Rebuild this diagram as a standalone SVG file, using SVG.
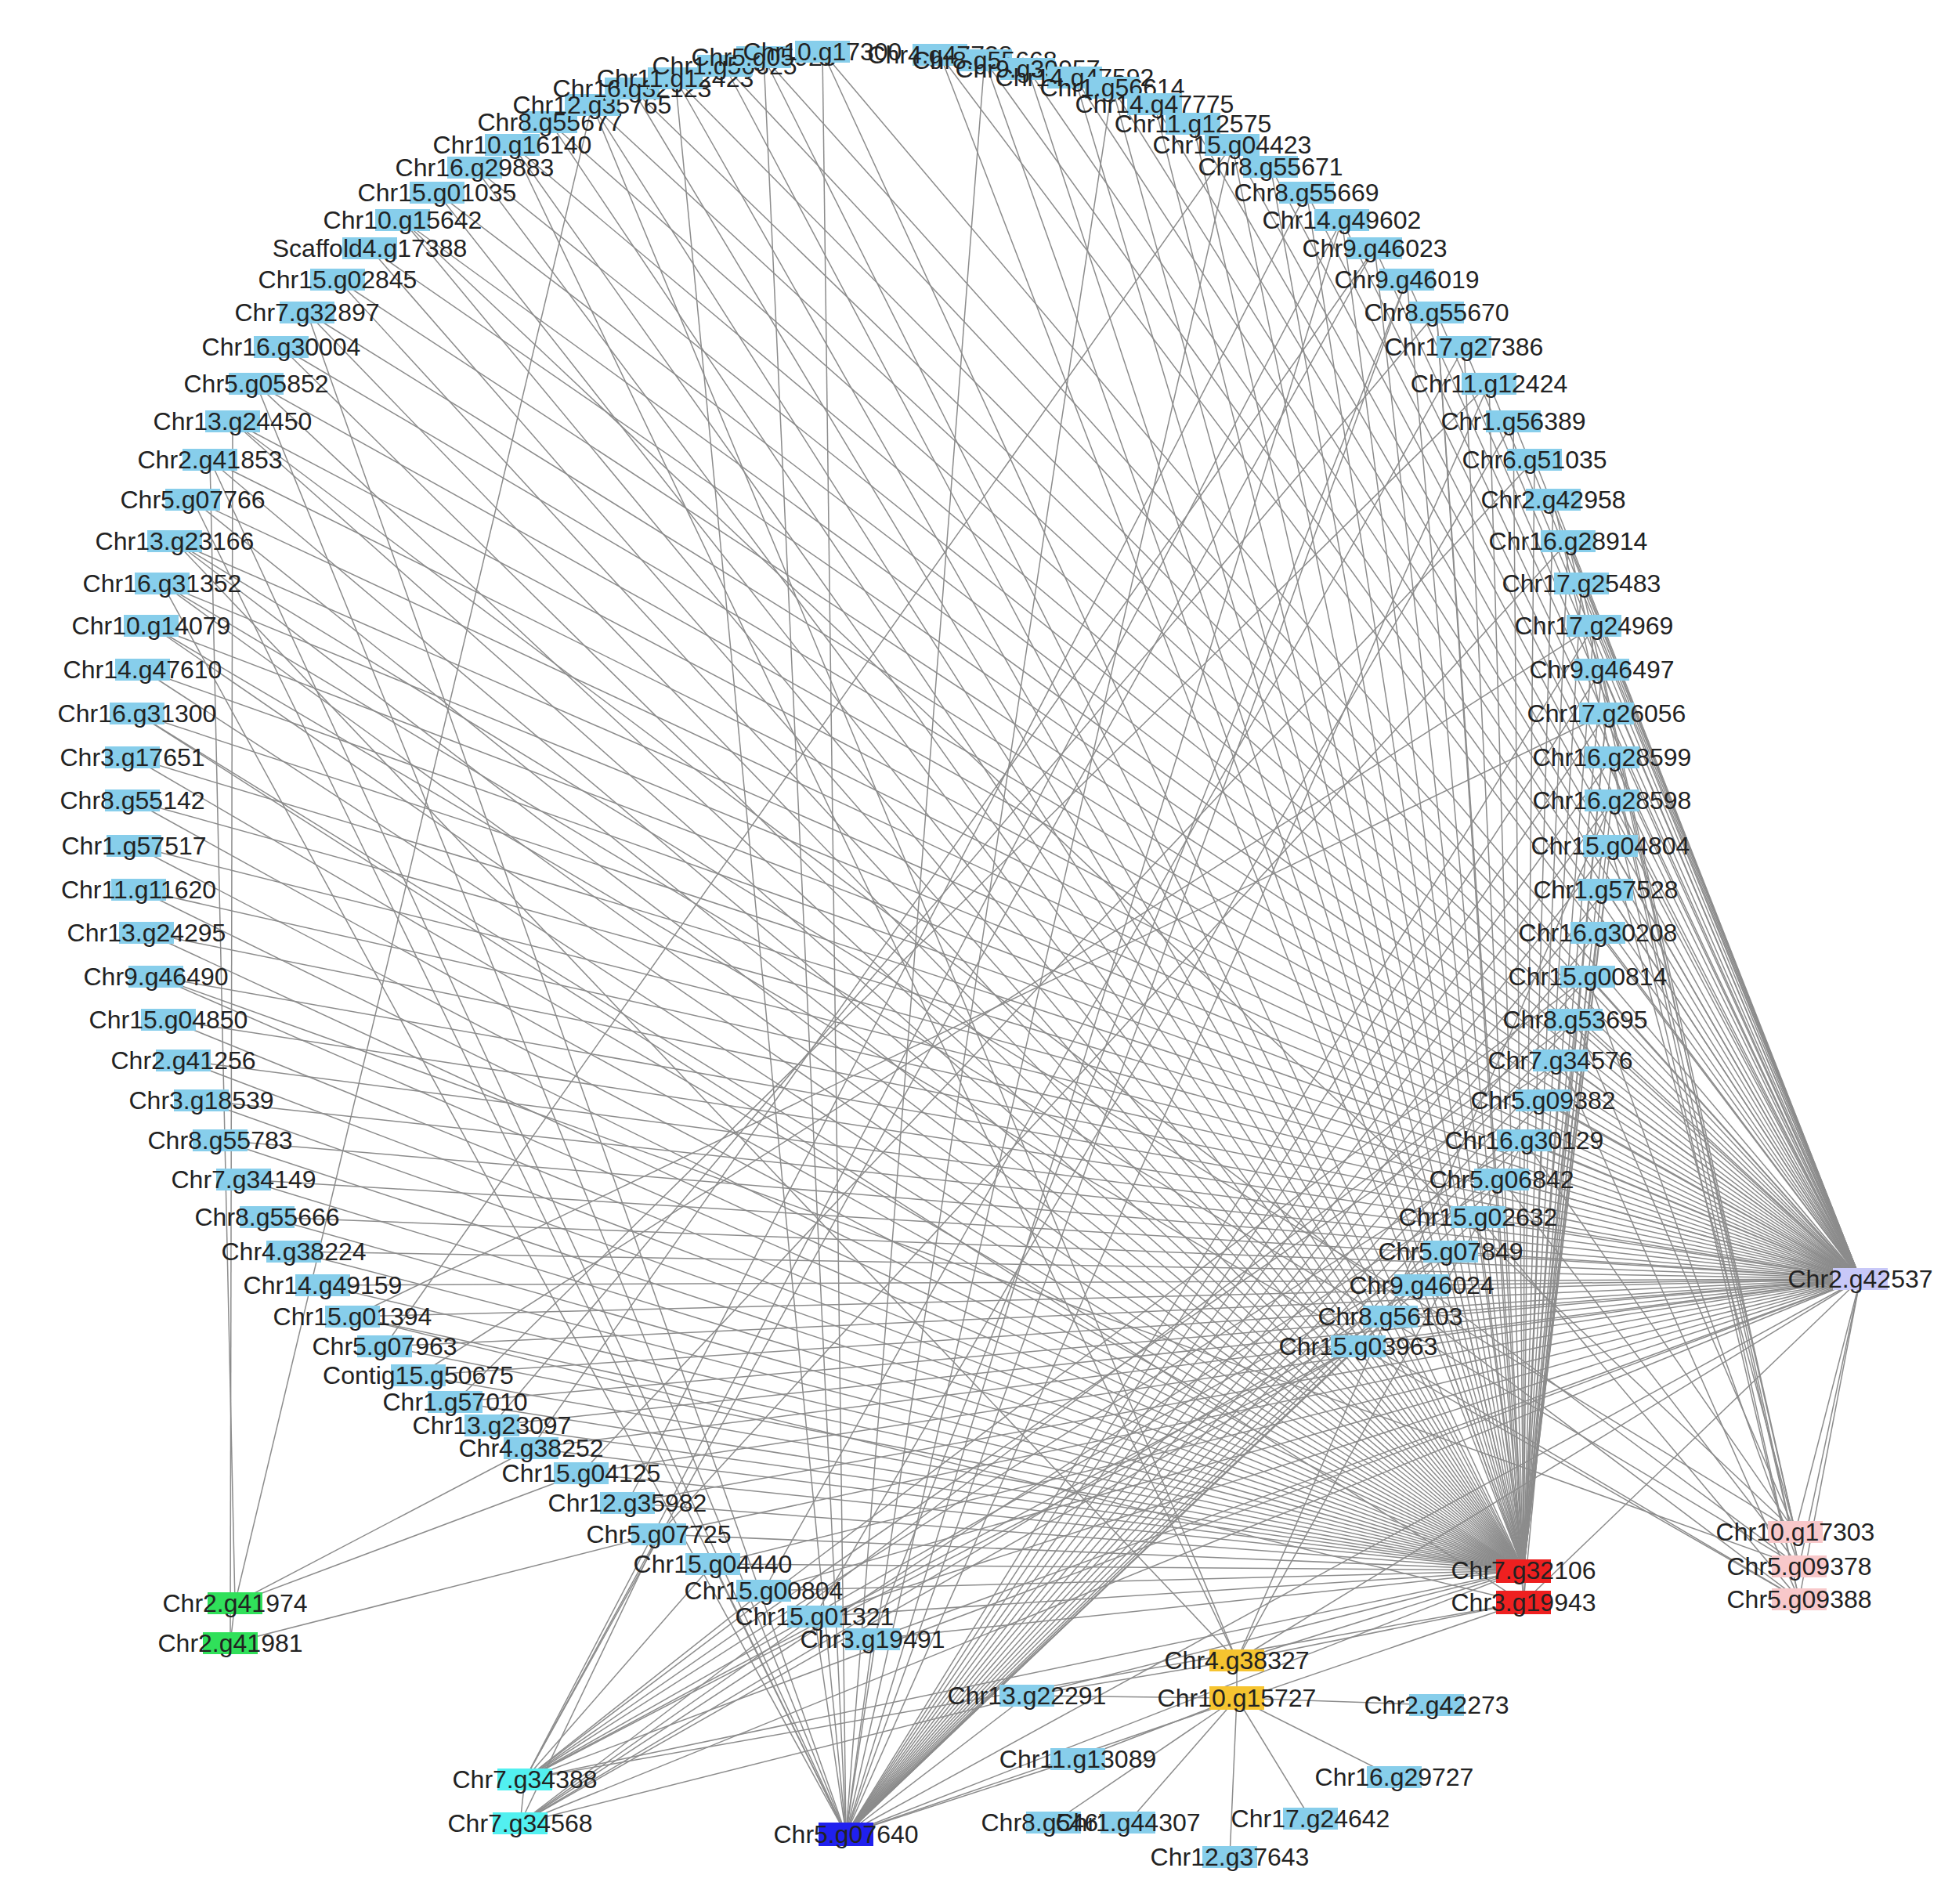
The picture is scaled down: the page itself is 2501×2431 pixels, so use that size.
<svg xmlns="http://www.w3.org/2000/svg" width="2501" height="2431" viewBox="0 0 2501 2431">
<style>
.e path{stroke:#8c8c8c;stroke-width:1.5;fill:none}
.n text{font-family:"Liberation Sans",Arial,sans-serif;font-size:32px;fill:#222;text-anchor:middle}
.b{fill:#87ceeb}.r{fill:#ee2020}.d{fill:#2020ee}.y{fill:#f6c430}.g{fill:#30e05a}.c{fill:#52f0f0}.l{fill:#c8c8f8}.p{fill:#f8c8ca}
</style>
<rect width="2501" height="2431" fill="#fff"/>
<g class="e" id="connectors">
<!-- Chr2.g42537 -->
<path d="M702 156 2375 1633"/><path d="M654 185 2375 1633"/><path d="M606 214 2375 1633"/><path d="M558 246 2375 1633"/><path d="M514 281 2375 1633"/><path d="M472 317 2375 1633"/><path d="M431 357 2375 1633"/><path d="M392 399 2375 1633"/><path d="M359 443 2375 1633"/><path d="M327 490 2375 1633"/><path d="M297 538 2375 1633"/><path d="M268 587 2375 1633"/><path d="M246 638 2375 1633"/><path d="M223 691 2375 1633"/><path d="M207 745 2375 1633"/><path d="M193 799 2375 1633"/><path d="M182 855 2375 1633"/><path d="M175 911 2375 1633"/><path d="M169 967 2375 1633"/><path d="M169 1022 2375 1633"/><path d="M171 1080 2375 1633"/><path d="M177 1136 2375 1633"/><path d="M187 1191 2375 1633"/><path d="M199 1247 2375 1633"/><path d="M215 1302 2375 1633"/><path d="M234 1354 2375 1633"/><path d="M257 1405 2375 1633"/><path d="M281 1456 2375 1633"/><path d="M311 1506 2375 1633"/><path d="M341 1554 2375 1633"/><path d="M375 1598 2375 1633"/><path d="M412 1641 2375 1633"/><path d="M450 1681 2375 1633"/><path d="M491 1719 2375 1633"/><path d="M534 1756 2375 1633"/><path d="M581 1790 2375 1633"/><path d="M628 1820 2375 1633"/><path d="M678 1849 2375 1633"/><path d="M742 1881 2375 1633"/><path d="M801 1919 2375 1633"/><path d="M841 1959 2375 1633"/><path d="M910 1997 2375 1633"/><path d="M975 2031 2375 1633"/><path d="M1040 2064 2375 1633"/><path d="M1114 2093 2375 1633"/>
<path d="M756 134 2375 1633"/><path d="M807 113 2375 1633"/><path d="M862 100 2375 1633"/><path d="M925 84 2375 1633"/><path d="M975 73 2375 1633"/><path d="M1050 66 2375 1633"/><path d="M1200 70 2375 1633"/><path d="M1257 77 2375 1633"/><path d="M1312 88 2375 1633"/><path d="M1372 99 2375 1633"/>
<path d="M1420 112 2375 1633"/><path d="M1474 133 2375 1633"/><path d="M1523 158 2375 1633"/><path d="M1573 185 2375 1633"/><path d="M1622 213 2375 1633"/><path d="M1668 246 2375 1633"/><path d="M1713 281 2375 1633"/><path d="M1755 317 2375 1633"/><path d="M1796 357 2375 1633"/><path d="M1834 399 2375 1633"/><path d="M1869 443 2375 1633"/><path d="M1901 490 2375 1633"/><path d="M1932 538 2375 1633"/><path d="M1959 587 2375 1633"/><path d="M1983 638 2375 1633"/><path d="M2002 691 2375 1633"/><path d="M2019 745 2375 1633"/><path d="M2035 799 2375 1633"/><path d="M2045 855 2375 1633"/><path d="M2051 911 2375 1633"/><path d="M2058 967 2375 1633"/><path d="M2058 1022 2375 1633"/><path d="M2056 1080 2375 1633"/><path d="M2050 1136 2375 1633"/><path d="M2040 1191 2375 1633"/><path d="M2027 1247 2375 1633"/><path d="M2011 1302 2375 1633"/><path d="M1992 1354 2375 1633"/><path d="M1970 1405 2375 1633"/><path d="M1946 1456 2375 1633"/><path d="M1917 1506 2375 1633"/><path d="M1887 1554 2375 1633"/><path d="M1852 1598 2375 1633"/><path d="M1815 1641 2375 1633"/><path d="M1775 1681 2375 1633"/><path d="M1734 1719 2375 1633"/>
<path d="M1945 2046 2375 1633"/><path d="M1579 2120 2375 1633"/><path d="M1080 2342 2375 1633"/><path d="M670 2272 2375 1633"/><path d="M664 2328 2375 1633"/><path d="M2292 1956 2375 1633"/><path d="M2297 2000 2375 1633"/><path d="M2297 2042 2375 1633"/>
<!-- Chr7.g32106 -->
<path d="M1420 112 1945 2005"/><path d="M1474 133 1945 2005"/><path d="M1523 158 1945 2005"/><path d="M1573 185 1945 2005"/><path d="M1622 213 1945 2005"/><path d="M1668 246 1945 2005"/><path d="M1713 281 1945 2005"/><path d="M1755 317 1945 2005"/><path d="M1796 357 1945 2005"/><path d="M1834 399 1945 2005"/><path d="M1869 443 1945 2005"/><path d="M1901 490 1945 2005"/><path d="M1932 538 1945 2005"/><path d="M1959 587 1945 2005"/><path d="M1983 638 1945 2005"/><path d="M2002 691 1945 2005"/><path d="M2019 745 1945 2005"/><path d="M2035 799 1945 2005"/><path d="M2045 855 1945 2005"/><path d="M2051 911 1945 2005"/><path d="M2058 967 1945 2005"/><path d="M2058 1022 1945 2005"/><path d="M2056 1080 1945 2005"/><path d="M2050 1136 1945 2005"/><path d="M2040 1191 1945 2005"/><path d="M2027 1247 1945 2005"/><path d="M2011 1302 1945 2005"/><path d="M1992 1354 1945 2005"/><path d="M1970 1405 1945 2005"/><path d="M1946 1456 1945 2005"/><path d="M1917 1506 1945 2005"/><path d="M1887 1554 1945 2005"/><path d="M1852 1598 1945 2005"/><path d="M1815 1641 1945 2005"/>
<path d="M756 134 1945 2005"/><path d="M807 113 1945 2005"/><path d="M862 100 1945 2005"/><path d="M925 84 1945 2005"/><path d="M975 73 1945 2005"/><path d="M1050 66 1945 2005"/><path d="M1200 70 1945 2005"/><path d="M1257 77 1945 2005"/><path d="M1312 88 1945 2005"/><path d="M1372 99 1945 2005"/>
<path d="M702 156 1945 2005"/><path d="M654 185 1945 2005"/><path d="M606 214 1945 2005"/><path d="M558 246 1945 2005"/><path d="M514 281 1945 2005"/><path d="M472 317 1945 2005"/><path d="M431 357 1945 2005"/><path d="M392 399 1945 2005"/><path d="M359 443 1945 2005"/><path d="M327 490 1945 2005"/><path d="M297 538 1945 2005"/><path d="M268 587 1945 2005"/><path d="M246 638 1945 2005"/><path d="M223 691 1945 2005"/><path d="M207 745 1945 2005"/><path d="M193 799 1945 2005"/><path d="M182 855 1945 2005"/><path d="M175 911 1945 2005"/><path d="M169 967 1945 2005"/><path d="M169 1022 1945 2005"/><path d="M171 1080 1945 2005"/><path d="M177 1136 1945 2005"/><path d="M187 1191 1945 2005"/><path d="M199 1247 1945 2005"/><path d="M215 1302 1945 2005"/><path d="M234 1354 1945 2005"/><path d="M257 1405 1945 2005"/><path d="M281 1456 1945 2005"/><path d="M311 1506 1945 2005"/><path d="M341 1554 1945 2005"/><path d="M375 1598 1945 2005"/><path d="M412 1641 1945 2005"/><path d="M450 1681 1945 2005"/><path d="M491 1719 1945 2005"/><path d="M534 1756 1945 2005"/><path d="M581 1790 1945 2005"/><path d="M628 1820 1945 2005"/><path d="M678 1849 1945 2005"/><path d="M742 1881 1945 2005"/><path d="M801 1919 1945 2005"/><path d="M841 1959 1945 2005"/><path d="M910 1997 1945 2005"/><path d="M975 2031 1945 2005"/><path d="M1040 2064 1945 2005"/><path d="M1114 2093 1945 2005"/>
<!-- Chr3.g19943 -->
<path d="M1834 399 1945 2046"/><path d="M2051 911 1945 2046"/><path d="M1970 1405 1945 2046"/><path d="M175 911 1945 2046"/><path d="M450 1681 1945 2046"/><path d="M1579 2120 1945 2046"/><path d="M670 2272 1945 2046"/>
<!-- Chr5.g07640 -->
<path d="M392 399 1080 2342"/><path d="M327 490 1080 2342"/><path d="M268 587 1080 2342"/><path d="M246 638 1080 2342"/><path d="M207 745 1080 2342"/><path d="M910 1997 1080 2342"/><path d="M1040 2064 1080 2342"/><path d="M1114 2093 1080 2342"/><path d="M862 100 1080 2342"/><path d="M975 73 1080 2342"/><path d="M1050 66 1080 2342"/><path d="M1257 77 1080 2342"/><path d="M1420 112 1080 2342"/><path d="M1573 185 1080 2342"/><path d="M1713 281 1080 2342"/><path d="M1796 357 1080 2342"/><path d="M1901 490 1080 2342"/>
<path d="M2035 799 1080 2342"/><path d="M2045 855 1080 2342"/><path d="M2051 911 1080 2342"/><path d="M2058 967 1080 2342"/><path d="M2058 1022 1080 2342"/><path d="M2056 1080 1080 2342"/><path d="M2050 1136 1080 2342"/><path d="M2040 1191 1080 2342"/><path d="M2027 1247 1080 2342"/><path d="M2011 1302 1080 2342"/><path d="M1992 1354 1080 2342"/><path d="M1970 1405 1080 2342"/><path d="M1946 1456 1080 2342"/><path d="M1917 1506 1080 2342"/><path d="M1887 1554 1080 2342"/><path d="M1852 1598 1080 2342"/><path d="M1815 1641 1080 2342"/><path d="M1775 1681 1080 2342"/><path d="M1734 1719 1080 2342"/>
<path d="M1945 2005 1080 2342"/><path d="M1945 2046 1080 2342"/><path d="M1311 2165 1080 2342"/><path d="M1376 2246 1080 2342"/>
<!-- lower-left circle nodes to upper-right circle nodes -->
<path d="M450 1681 2051 911"/><path d="M491 1719 1573 185"/><path d="M534 1756 2035 799"/><path d="M581 1790 1901 490"/><path d="M628 1820 1834 399"/><path d="M678 1849 1755 317"/><path d="M742 1881 1959 587"/><path d="M801 1919 1668 246"/><path d="M841 1959 2002 691"/><path d="M975 2031 1869 443"/><path d="M1040 2064 1932 538"/><path d="M1114 2093 1796 357"/>
<!-- Chr4.g38327 -->
<path d="M654 185 1579 2120"/><path d="M223 691 1579 2120"/><path d="M2058 1022 1579 2120"/><path d="M1946 1456 1579 2120"/><path d="M756 134 1579 2120"/><path d="M1945 2005 1579 2120"/><path d="M1311 2165 1579 2120"/><path d="M1579 2168 1579 2120"/>
<!-- Chr10.g15727 -->
<path d="M1311 2165 1579 2168"/><path d="M1834 2177 1579 2168"/><path d="M1376 2246 1579 2168"/><path d="M1780 2269 1579 2168"/><path d="M1345 2327 1579 2168"/><path d="M1440 2327 1579 2168"/><path d="M1673 2322 1579 2168"/><path d="M1570 2371 1579 2168"/>
<!-- Chr7.g34388 / Chr7.g34568 -->
<path d="M841 1959 670 2272"/><path d="M910 1997 670 2272"/><path d="M975 2031 670 2272"/><path d="M1713 281 670 2272"/><path d="M1755 317 670 2272"/><path d="M2027 1247 670 2272"/><path d="M1992 1354 670 2272"/><path d="M1946 1456 670 2272"/><path d="M1852 1598 670 2272"/><path d="M1775 1681 670 2272"/><path d="M1734 1719 670 2272"/><path d="M1945 2005 670 2272"/>
<path d="M841 1959 664 2328"/><path d="M1040 2064 664 2328"/><path d="M2011 1302 664 2328"/><path d="M1917 1506 664 2328"/><path d="M1815 1641 664 2328"/><path d="M1734 1719 664 2328"/><path d="M1945 2005 664 2328"/><path d="M670 2272 664 2328"/>
<!-- Chr2.g41974 / Chr2.g41981 -->
<path d="M268 587 300 2047"/><path d="M756 134 300 2047"/><path d="M678 1849 300 2047"/><path d="M742 1881 300 2047"/><path d="M294 2098 300 2047"/><path d="M297 538 294 2098"/><path d="M841 1959 294 2098"/>
<!-- pink -->
<path d="M2002 691 2292 1956"/><path d="M2045 855 2292 1956"/><path d="M2056 1080 2292 1956"/><path d="M2011 1302 2292 1956"/><path d="M1946 1456 2292 1956"/><path d="M514 281 2292 1956"/><path d="M223 691 2292 1956"/>
<path d="M2019 745 2297 2000"/><path d="M2058 967 2297 2000"/><path d="M2027 1247 2297 2000"/><path d="M1917 1506 2297 2000"/><path d="M1815 1641 2297 2000"/><path d="M207 745 2297 2000"/><path d="M199 1247 2297 2000"/>
<path d="M1983 638 2297 2042"/><path d="M2058 1022 2297 2042"/><path d="M1992 1354 2297 2042"/><path d="M1887 1554 2297 2042"/><path d="M1734 1719 2297 2042"/><path d="M297 538 2297 2042"/><path d="M193 799 2297 2042"/>
</g>
<g class="n" id="nodes">
<g id="Chr8_g55677"><rect class="b" x="667" y="142" width="70" height="28"/><text x="702" y="167">Chr8.g55677</text></g>
<g id="Chr10_g16140"><rect class="b" x="619" y="171" width="70" height="28"/><text x="654" y="196">Chr10.g16140</text></g>
<g id="Chr16_g29883"><rect class="b" x="571" y="200" width="70" height="28"/><text x="606" y="225">Chr16.g29883</text></g>
<g id="Chr15_g01035"><rect class="b" x="523" y="232" width="70" height="28"/><text x="558" y="257">Chr15.g01035</text></g>
<g id="Chr10_g15642"><rect class="b" x="479" y="267" width="70" height="28"/><text x="514" y="292">Chr10.g15642</text></g>
<g id="Scaffold4_g17388"><rect class="b" x="437" y="303" width="70" height="28"/><text x="472" y="328">Scaffold4.g17388</text></g>
<g id="Chr15_g02845"><rect class="b" x="396" y="343" width="70" height="28"/><text x="431" y="368">Chr15.g02845</text></g>
<g id="Chr7_g32897"><rect class="b" x="357" y="385" width="70" height="28"/><text x="392" y="410">Chr7.g32897</text></g>
<g id="Chr16_g30004"><rect class="b" x="324" y="429" width="70" height="28"/><text x="359" y="454">Chr16.g30004</text></g>
<g id="Chr5_g05852"><rect class="b" x="292" y="476" width="70" height="28"/><text x="327" y="501">Chr5.g05852</text></g>
<g id="Chr13_g24450"><rect class="b" x="262" y="524" width="70" height="28"/><text x="297" y="549">Chr13.g24450</text></g>
<g id="Chr2_g41853"><rect class="b" x="233" y="573" width="70" height="28"/><text x="268" y="598">Chr2.g41853</text></g>
<g id="Chr5_g07766"><rect class="b" x="211" y="624" width="70" height="28"/><text x="246" y="649">Chr5.g07766</text></g>
<g id="Chr13_g23166"><rect class="b" x="188" y="677" width="70" height="28"/><text x="223" y="702">Chr13.g23166</text></g>
<g id="Chr16_g31352"><rect class="b" x="172" y="731" width="70" height="28"/><text x="207" y="756">Chr16.g31352</text></g>
<g id="Chr10_g14079"><rect class="b" x="158" y="785" width="70" height="28"/><text x="193" y="810">Chr10.g14079</text></g>
<g id="Chr14_g47610"><rect class="b" x="147" y="841" width="70" height="28"/><text x="182" y="866">Chr14.g47610</text></g>
<g id="Chr16_g31300"><rect class="b" x="140" y="897" width="70" height="28"/><text x="175" y="922">Chr16.g31300</text></g>
<g id="Chr3_g17651"><rect class="b" x="134" y="953" width="70" height="28"/><text x="169" y="978">Chr3.g17651</text></g>
<g id="Chr8_g55142"><rect class="b" x="134" y="1008" width="70" height="28"/><text x="169" y="1033">Chr8.g55142</text></g>
<g id="Chr1_g57517"><rect class="b" x="136" y="1066" width="70" height="28"/><text x="171" y="1091">Chr1.g57517</text></g>
<g id="Chr11_g11620"><rect class="b" x="142" y="1122" width="70" height="28"/><text x="177" y="1147">Chr11.g11620</text></g>
<g id="Chr13_g24295"><rect class="b" x="152" y="1177" width="70" height="28"/><text x="187" y="1202">Chr13.g24295</text></g>
<g id="Chr9_g46490"><rect class="b" x="164" y="1233" width="70" height="28"/><text x="199" y="1258">Chr9.g46490</text></g>
<g id="Chr15_g04850"><rect class="b" x="180" y="1288" width="70" height="28"/><text x="215" y="1313">Chr15.g04850</text></g>
<g id="Chr2_g41256"><rect class="b" x="199" y="1340" width="70" height="28"/><text x="234" y="1365">Chr2.g41256</text></g>
<g id="Chr3_g18539"><rect class="b" x="222" y="1391" width="70" height="28"/><text x="257" y="1416">Chr3.g18539</text></g>
<g id="Chr8_g55783"><rect class="b" x="246" y="1442" width="70" height="28"/><text x="281" y="1467">Chr8.g55783</text></g>
<g id="Chr7_g34149"><rect class="b" x="276" y="1492" width="70" height="28"/><text x="311" y="1517">Chr7.g34149</text></g>
<g id="Chr8_g55666"><rect class="b" x="306" y="1540" width="70" height="28"/><text x="341" y="1565">Chr8.g55666</text></g>
<g id="Chr4_g38224"><rect class="b" x="340" y="1584" width="70" height="28"/><text x="375" y="1609">Chr4.g38224</text></g>
<g id="Chr14_g49159"><rect class="b" x="377" y="1627" width="70" height="28"/><text x="412" y="1652">Chr14.g49159</text></g>
<g id="Chr15_g01394"><rect class="b" x="415" y="1667" width="70" height="28"/><text x="450" y="1692">Chr15.g01394</text></g>
<g id="Chr5_g07963"><rect class="b" x="456" y="1705" width="70" height="28"/><text x="491" y="1730">Chr5.g07963</text></g>
<g id="Contig15_g50675"><rect class="b" x="499" y="1742" width="70" height="28"/><text x="534" y="1767">Contig15.g50675</text></g>
<g id="Chr1_g57010"><rect class="b" x="546" y="1776" width="70" height="28"/><text x="581" y="1801">Chr1.g57010</text></g>
<g id="Chr13_g23097"><rect class="b" x="593" y="1806" width="70" height="28"/><text x="628" y="1831">Chr13.g23097</text></g>
<g id="Chr4_g38252"><rect class="b" x="643" y="1835" width="70" height="28"/><text x="678" y="1860">Chr4.g38252</text></g>
<g id="Chr15_g04125"><rect class="b" x="707" y="1867" width="70" height="28"/><text x="742" y="1892">Chr15.g04125</text></g>
<g id="Chr12_g35982"><rect class="b" x="766" y="1905" width="70" height="28"/><text x="801" y="1930">Chr12.g35982</text></g>
<g id="Chr5_g07725"><rect class="b" x="806" y="1945" width="70" height="28"/><text x="841" y="1970">Chr5.g07725</text></g>
<g id="Chr15_g04440"><rect class="b" x="875" y="1983" width="70" height="28"/><text x="910" y="2008">Chr15.g04440</text></g>
<g id="Chr15_g00804"><rect class="b" x="940" y="2017" width="70" height="28"/><text x="975" y="2042">Chr15.g00804</text></g>
<g id="Chr15_g01321"><rect class="b" x="1005" y="2050" width="70" height="28"/><text x="1040" y="2075">Chr15.g01321</text></g>
<g id="Chr3_g19491"><rect class="b" x="1079" y="2079" width="70" height="28"/><text x="1114" y="2104">Chr3.g19491</text></g>
<g id="Chr12_g35765"><rect class="b" x="721" y="120" width="70" height="28"/><text x="756" y="145">Chr12.g35765</text></g>
<g id="Chr16_g32123"><rect class="b" x="772" y="99" width="70" height="28"/><text x="807" y="124">Chr16.g32123</text></g>
<g id="Chr11_g12423"><rect class="b" x="827" y="86" width="70" height="28"/><text x="862" y="111">Chr11.g12423</text></g>
<g id="Chr1_g56625"><rect class="b" x="890" y="70" width="70" height="28"/><text x="925" y="95">Chr1.g56625</text></g>
<g id="Chr5_g05926"><rect class="b" x="940" y="59" width="70" height="28"/><text x="975" y="84">Chr5.g05926</text></g>
<g id="Chr10_g17300"><rect class="b" x="1015" y="52" width="70" height="28"/><text x="1050" y="77">Chr10.g17300</text></g>
<g id="Chr4_g47738"><rect class="b" x="1165" y="56" width="70" height="28"/><text x="1200" y="81">Chr4.g47738</text></g>
<g id="Chr8_g55668"><rect class="b" x="1222" y="63" width="70" height="28"/><text x="1257" y="88">Chr8.g55668</text></g>
<g id="Chr9_g39957"><rect class="b" x="1277" y="74" width="70" height="28"/><text x="1312" y="99">Chr9.g39957</text></g>
<g id="Chr14_g47592"><rect class="b" x="1337" y="85" width="70" height="28"/><text x="1372" y="110">Chr14.g47592</text></g>
<g id="Chr1_g56614"><rect class="b" x="1385" y="98" width="70" height="28"/><text x="1420" y="123">Chr1.g56614</text></g>
<g id="Chr14_g47775"><rect class="b" x="1439" y="119" width="70" height="28"/><text x="1474" y="144">Chr14.g47775</text></g>
<g id="Chr11_g12575"><rect class="b" x="1488" y="144" width="70" height="28"/><text x="1523" y="169">Chr11.g12575</text></g>
<g id="Chr15_g04423"><rect class="b" x="1538" y="171" width="70" height="28"/><text x="1573" y="196">Chr15.g04423</text></g>
<g id="Chr8_g55671"><rect class="b" x="1587" y="199" width="70" height="28"/><text x="1622" y="224">Chr8.g55671</text></g>
<g id="Chr8_g55669"><rect class="b" x="1633" y="232" width="70" height="28"/><text x="1668" y="257">Chr8.g55669</text></g>
<g id="Chr14_g49602"><rect class="b" x="1678" y="267" width="70" height="28"/><text x="1713" y="292">Chr14.g49602</text></g>
<g id="Chr9_g46023"><rect class="b" x="1720" y="303" width="70" height="28"/><text x="1755" y="328">Chr9.g46023</text></g>
<g id="Chr9_g46019"><rect class="b" x="1761" y="343" width="70" height="28"/><text x="1796" y="368">Chr9.g46019</text></g>
<g id="Chr8_g55670"><rect class="b" x="1799" y="385" width="70" height="28"/><text x="1834" y="410">Chr8.g55670</text></g>
<g id="Chr17_g27386"><rect class="b" x="1834" y="429" width="70" height="28"/><text x="1869" y="454">Chr17.g27386</text></g>
<g id="Chr11_g12424"><rect class="b" x="1866" y="476" width="70" height="28"/><text x="1901" y="501">Chr11.g12424</text></g>
<g id="Chr1_g56389"><rect class="b" x="1897" y="524" width="70" height="28"/><text x="1932" y="549">Chr1.g56389</text></g>
<g id="Chr6_g51035"><rect class="b" x="1924" y="573" width="70" height="28"/><text x="1959" y="598">Chr6.g51035</text></g>
<g id="Chr2_g42958"><rect class="b" x="1948" y="624" width="70" height="28"/><text x="1983" y="649">Chr2.g42958</text></g>
<g id="Chr16_g28914"><rect class="b" x="1967" y="677" width="70" height="28"/><text x="2002" y="702">Chr16.g28914</text></g>
<g id="Chr17_g25483"><rect class="b" x="1984" y="731" width="70" height="28"/><text x="2019" y="756">Chr17.g25483</text></g>
<g id="Chr17_g24969"><rect class="b" x="2000" y="785" width="70" height="28"/><text x="2035" y="810">Chr17.g24969</text></g>
<g id="Chr9_g46497"><rect class="b" x="2010" y="841" width="70" height="28"/><text x="2045" y="866">Chr9.g46497</text></g>
<g id="Chr17_g26056"><rect class="b" x="2016" y="897" width="70" height="28"/><text x="2051" y="922">Chr17.g26056</text></g>
<g id="Chr16_g28599"><rect class="b" x="2023" y="953" width="70" height="28"/><text x="2058" y="978">Chr16.g28599</text></g>
<g id="Chr16_g28598"><rect class="b" x="2023" y="1008" width="70" height="28"/><text x="2058" y="1033">Chr16.g28598</text></g>
<g id="Chr15_g04804"><rect class="b" x="2021" y="1066" width="70" height="28"/><text x="2056" y="1091">Chr15.g04804</text></g>
<g id="Chr1_g57528"><rect class="b" x="2015" y="1122" width="70" height="28"/><text x="2050" y="1147">Chr1.g57528</text></g>
<g id="Chr16_g30208"><rect class="b" x="2005" y="1177" width="70" height="28"/><text x="2040" y="1202">Chr16.g30208</text></g>
<g id="Chr15_g00814"><rect class="b" x="1992" y="1233" width="70" height="28"/><text x="2027" y="1258">Chr15.g00814</text></g>
<g id="Chr8_g53695"><rect class="b" x="1976" y="1288" width="70" height="28"/><text x="2011" y="1313">Chr8.g53695</text></g>
<g id="Chr7_g34576"><rect class="b" x="1957" y="1340" width="70" height="28"/><text x="1992" y="1365">Chr7.g34576</text></g>
<g id="Chr5_g09382"><rect class="b" x="1935" y="1391" width="70" height="28"/><text x="1970" y="1416">Chr5.g09382</text></g>
<g id="Chr16_g30129"><rect class="b" x="1911" y="1442" width="70" height="28"/><text x="1946" y="1467">Chr16.g30129</text></g>
<g id="Chr5_g06842"><rect class="b" x="1882" y="1492" width="70" height="28"/><text x="1917" y="1517">Chr5.g06842</text></g>
<g id="Chr15_g02632"><rect class="b" x="1852" y="1540" width="70" height="28"/><text x="1887" y="1565">Chr15.g02632</text></g>
<g id="Chr5_g07849"><rect class="b" x="1817" y="1584" width="70" height="28"/><text x="1852" y="1609">Chr5.g07849</text></g>
<g id="Chr9_g46024"><rect class="b" x="1780" y="1627" width="70" height="28"/><text x="1815" y="1652">Chr9.g46024</text></g>
<g id="Chr8_g56103"><rect class="b" x="1740" y="1667" width="70" height="28"/><text x="1775" y="1692">Chr8.g56103</text></g>
<g id="Chr15_g03963"><rect class="b" x="1699" y="1705" width="70" height="28"/><text x="1734" y="1730">Chr15.g03963</text></g>
<g id="Chr2_g42537"><rect class="l" x="2340" y="1619" width="70" height="28"/><text x="2375" y="1644">Chr2.g42537</text></g>
<g id="Chr7_g32106"><rect class="r" x="1910" y="1991" width="70" height="30"/><text x="1945" y="2016">Chr7.g32106</text></g>
<g id="Chr3_g19943"><rect class="r" x="1910" y="2031" width="70" height="30"/><text x="1945" y="2057">Chr3.g19943</text></g>
<g id="Chr5_g07640"><rect class="d" x="1045" y="2327" width="70" height="30"/><text x="1080" y="2353">Chr5.g07640</text></g>
<g id="Chr4_g38327"><rect class="y" x="1544" y="2106" width="70" height="28"/><text x="1579" y="2131">Chr4.g38327</text></g>
<g id="Chr10_g15727"><rect class="y" x="1544" y="2153" width="70" height="30"/><text x="1579" y="2179">Chr10.g15727</text></g>
<g id="Chr2_g41974"><rect class="g" x="265" y="2033" width="70" height="28"/><text x="300" y="2058">Chr2.g41974</text></g>
<g id="Chr2_g41981"><rect class="g" x="259" y="2084" width="70" height="28"/><text x="294" y="2109">Chr2.g41981</text></g>
<g id="Chr7_g34388"><rect class="c" x="635" y="2258" width="70" height="28"/><text x="670" y="2283">Chr7.g34388</text></g>
<g id="Chr7_g34568"><rect class="c" x="629" y="2314" width="70" height="28"/><text x="664" y="2339">Chr7.g34568</text></g>
<g id="Chr10_g17303"><rect class="p" x="2257" y="1942" width="70" height="28"/><text x="2292" y="1967">Chr10.g17303</text></g>
<g id="Chr5_g09378"><rect class="p" x="2262" y="1986" width="70" height="28"/><text x="2297" y="2011">Chr5.g09378</text></g>
<g id="Chr5_g09388"><rect class="p" x="2262" y="2028" width="70" height="28"/><text x="2297" y="2053">Chr5.g09388</text></g>
<g id="Chr13_g22291"><rect class="b" x="1276" y="2151" width="70" height="28"/><text x="1311" y="2176">Chr13.g22291</text></g>
<g id="Chr2_g42273"><rect class="b" x="1799" y="2163" width="70" height="28"/><text x="1834" y="2188">Chr2.g42273</text></g>
<g id="Chr11_g13089"><rect class="b" x="1341" y="2232" width="70" height="28"/><text x="1376" y="2257">Chr11.g13089</text></g>
<g id="Chr16_g29727"><rect class="b" x="1745" y="2255" width="70" height="28"/><text x="1780" y="2280">Chr16.g29727</text></g>
<g id="Chr8_g54675"><rect class="b" x="1310" y="2313" width="70" height="28"/><text x="1345" y="2338">Chr8.g54675</text></g>
<g id="Chr1_g44307"><rect class="b" x="1405" y="2313" width="70" height="28"/><text x="1440" y="2338">Chr1.g44307</text></g>
<g id="Chr17_g24642"><rect class="b" x="1638" y="2308" width="70" height="28"/><text x="1673" y="2333">Chr17.g24642</text></g>
<g id="Chr12_g37643"><rect class="b" x="1535" y="2357" width="70" height="28"/><text x="1570" y="2382">Chr12.g37643</text></g>
</g>
</svg>
